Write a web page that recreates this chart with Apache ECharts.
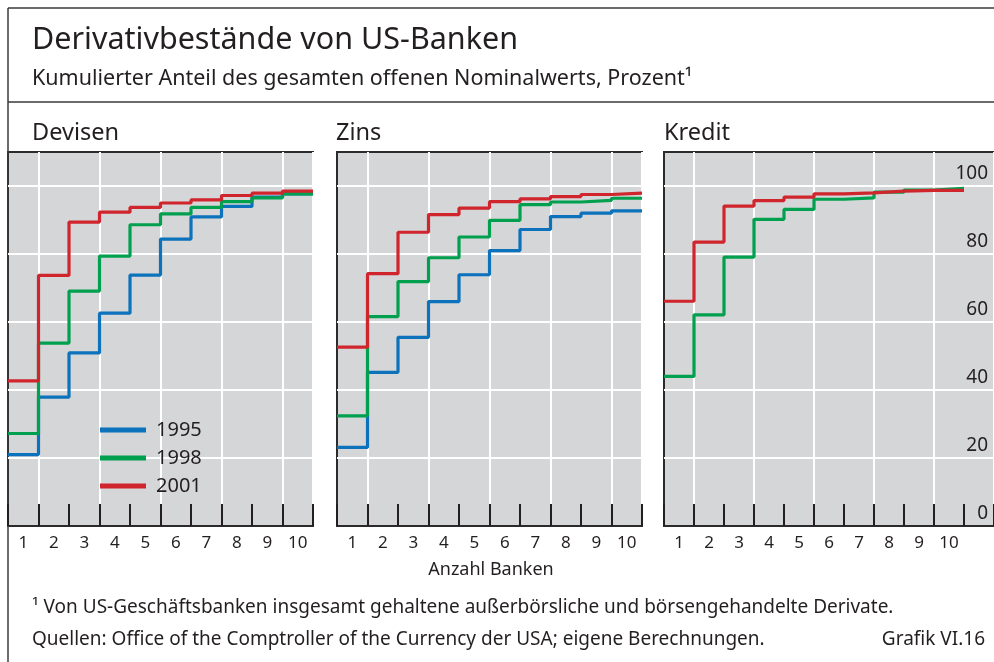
<!DOCTYPE html>
<html>
<head>
<meta charset="UTF-8">
<title>Derivativbestände von US-Banken</title>
<script src="https://cdn.jsdelivr.net/npm/echarts@6/dist/echarts.min.js"></script>
</head>
<body style="margin:0;background:#fff;">
<div id="chart" style="width:994px;height:662px;"></div>
<script>
// Anzahl Banken (x-Achse)
var banks = ['1', '2', '3', '4', '5', '6', '7', '8', '9', '10'];
var years = ['1995', '1998', '2001'];
var yTicks = [0, 20, 40, 60, 80, 100];

var devisen1995 = [21.0, 37.9, 50.9, 62.6, 73.8, 84.4, 90.9, 94.0, 96.7, 97.7];
var devisen1998 = [27.2, 53.8, 69.1, 79.4, 88.6, 91.8, 93.7, 95.4, 96.5, 97.7];
var devisen2001 = [42.7, 73.7, 89.4, 92.3, 93.7, 95.0, 95.9, 97.2, 97.9, 98.5];

var zins1995 = [23.1, 45.2, 55.5, 66.0, 73.9, 81.0, 87.2, 91.0, 92.0, 92.7];
var zins1998 = [32.4, 61.6, 71.9, 78.9, 85.0, 89.9, 94.5, 95.3, 95.8, 96.4];
var zins2001 = [52.6, 74.2, 86.4, 91.6, 93.5, 95.4, 96.2, 96.9, 97.5, 97.9];

var kredit1998 = [44.0, 62.1, 79.1, 90.2, 93.1, 96.1, 96.5, 98.2, 98.8, 99.3];
var kredit2001 = [66.1, 83.5, 94.1, 95.7, 96.7, 97.7, 98.0, 98.5, 98.7, 98.7];

var colors = {'1995': '#0b72bb', '1998': '#00a04e', '2001': '#d0252d'};
var fontFam = '"Noto Sans", "Liberation Sans", Arial, sans-serif';
var ink = '#231f20';

var chart = echarts.init(document.getElementById('chart'));

// step points: bank k covers [k-1, k] on the hidden value axis
function steps(vals) {
    var pts = vals.map(function (v, i) { return [i, v]; });
    pts.push([vals.length, vals[vals.length - 1]]);
    return pts;
}

var grids = [
    {left: 8, top: 152, width: 305, height: 374},
    {left: 337, top: 152, width: 305, height: 374},
    {left: 664, top: 152, width: 335, height: 374}
];

var xAxes = [], yAxes = [], series = [];
grids.forEach(function (g, gi) {
    var cats = gi === 2 ? banks.concat(['']) : banks;
    xAxes.push({
        type: 'category', gridIndex: gi, data: cats, boundaryGap: true,
        axisLine: {show: false},
        axisTick: {show: true, inside: true, length: 22, interval: 0,
            lineStyle: {color: ink, width: 2}},
        axisLabel: {interval: 0, fontSize: 17, color: ink, fontFamily: fontFam, margin: 9},
        splitLine: {show: true, interval: function (i) { return i % 2 === 1; },
            lineStyle: {color: '#ffffff', width: 2}}
    });
    xAxes.push({
        type: 'value', gridIndex: gi, min: 0, max: cats.length, show: false
    });
    yAxes.push({
        type: 'value', gridIndex: gi, min: 0, max: 110, interval: 20,
        position: 'right',
        axisLine: {show: false}, axisTick: {show: false},
        axisLabel: {
            show: gi === 2, inside: true, fontSize: 19, color: ink, fontFamily: fontFam,
            margin: 6, verticalAlign: 'bottom', padding: [0, 0, 3, 0],
            formatter: function (v) { return yTicks.indexOf(v) >= 0 ? String(v) : ''; }
        },
        splitLine: {show: true, showMinLine: false, showMaxLine: false,
            lineStyle: {color: '#ffffff', width: 2}}
    });
});

function addSeries(name, vals, gi) {
    series.push({
        name: name, type: 'line', step: 'end',
        xAxisIndex: gi * 2 + 1, yAxisIndex: gi,
        data: steps(vals), symbol: 'none', silent: true,
        lineStyle: {color: colors[name], width: 3.2},
        itemStyle: {color: colors[name]}
    });
}
addSeries('1995', devisen1995, 0);
addSeries('1998', devisen1998, 0);
addSeries('2001', devisen2001, 0);
addSeries('1995', zins1995, 1);
addSeries('1998', zins1998, 1);
addSeries('2001', zins2001, 1);
addSeries('1998', kredit1998, 2);
addSeries('2001', kredit2001, 2);

function txt(t, x, y, size, align) {
    return {type: 'text', x: x, y: y, silent: true,
        style: {text: t, fill: ink, font: size + 'px ' + fontFam,
            align: align || 'left', verticalAlign: 'middle'}};
}
function line(x1, y1, x2, y2) {
    return {type: 'line', silent: true, shape: {x1: x1, y1: y1, x2: x2, y2: y2},
        style: {stroke: '#3a3a3a', lineWidth: 1.5}};
}

var option = {
    animation: false,
    backgroundColor: '#ffffff',
    grid: grids.map(function (g) {
        return {left: g.left, top: g.top, width: g.width, height: g.height,
            show: true, backgroundColor: '#d5d6d8', borderColor: '#2b2b2b', borderWidth: 2};
    }),
    xAxis: xAxes,
    yAxis: yAxes,
    legend: {
        data: years, orient: 'vertical', left: 100, top: 418, padding: 0,
        icon: 'rect', itemWidth: 46, itemHeight: 5, itemGap: 4,
        selectedMode: false,
        textStyle: {fontSize: 20, color: ink, fontFamily: fontFam, lineHeight: 24,
            padding: [0, 0, 0, 5]}
    },
    series: series,
    graphic: [
        line(8, 8, 994, 8),
        line(8, 8, 8, 662),
        line(8, 102, 994, 102),
        txt('Derivativbestände von US-Banken', 32, 40, 30.5),
        txt('Kumulierter Anteil des gesamten offenen Nominalwerts, Prozent¹', 32, 79, 21.5),
        txt('Devisen', 32, 133, 23.5),
        txt('Zins', 336, 133, 23.5),
        txt('Kredit', 664, 133, 23.5),
        txt('Anzahl Banken', 491, 570, 18, 'center'),
        txt('¹ Von US-Geschäftsbanken insgesamt gehaltene außerbörsliche und börsengehandelte Derivate.', 32, 608, 19),
        txt('Quellen: Office of the Comptroller of the Currency der USA; eigene Berechnungen.', 32, 640, 19),
        txt('Grafik VI.16', 985, 640, 19, 'right')
    ]
};
chart.setOption(option);
</script>
</body>
</html>
